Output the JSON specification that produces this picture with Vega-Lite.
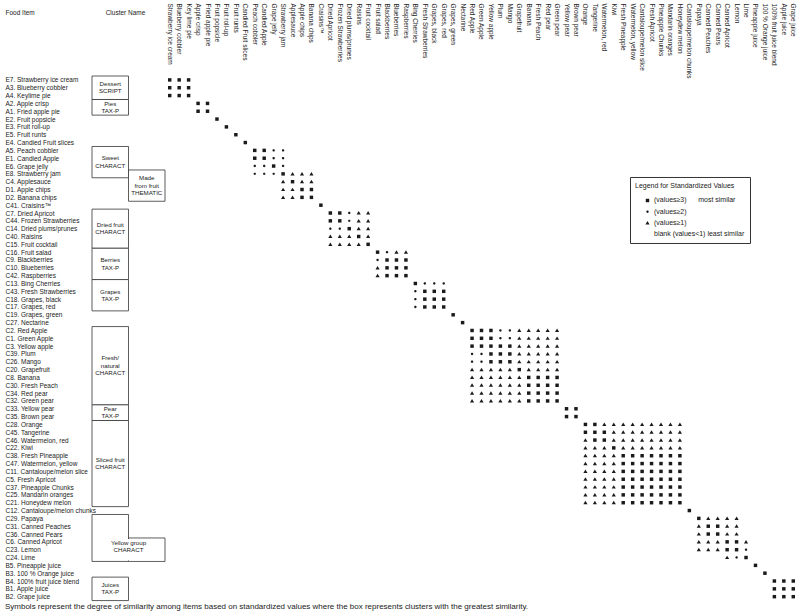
{
"$schema": "https://vega.github.io/schema/vega-lite/v6.json",
"padding": {"left": 5, "top": 2, "right": 0, "bottom": 2},
"bounds": "flush",
"spacing": 0,
"config": {"font": "Liberation Sans", "view": {"stroke": null}, "axis": {"grid": false, "labelOverlap": false}},
"title": {"text": "Symbols represent the degree of similarity among items based on standardized values where the box represents clusters with the greatest similarity.", "orient": "bottom", "anchor": "start", "fontSize": 8, "fontWeight": "normal", "color": "#222", "offset": 2},
"resolve": {"scale": {"y": "shared"}},
"datasets": {
"items": [
{"row":1,"name":"Strawberry ice cream"},{"row":2,"name":"Blueberry cobbler"},{"row":3,"name":"Key lime pie"},{"row":4,"name":"Apple crisp"},{"row":5,"name":"Fried apple pie"},{"row":6,"name":"Fruit popsicle"},{"row":7,"name":"Fruit roll-up"},{"row":8,"name":"Fruit runts"},{"row":9,"name":"Candied Fruit slices"},{"row":10,"name":"Peach cobbler"},{"row":11,"name":"Candied Apple"},{"row":12,"name":"Grape jelly"},{"row":13,"name":"Strawberry jam"},{"row":14,"name":"Applesauce"},{"row":15,"name":"Apple chips"},{"row":16,"name":"Banana chips"},{"row":17,"name":"Craisins™"},{"row":18,"name":"Dried Apricot"},{"row":19,"name":"Frozen Strawberries"},{"row":20,"name":"Dried plums/prunes"},{"row":21,"name":"Raisins"},{"row":22,"name":"Fruit cocktail"},{"row":23,"name":"Fruit salad"},{"row":24,"name":"Blackberries"},{"row":25,"name":"Blueberries"},{"row":26,"name":"Raspberries"},{"row":27,"name":"Bing Cherries"},{"row":28,"name":"Fresh Strawberries"},{"row":29,"name":"Grapes, black"},{"row":30,"name":"Grapes, red"},{"row":31,"name":"Grapes, green"},{"row":32,"name":"Nectarine"},{"row":33,"name":"Red Apple"},{"row":34,"name":"Green Apple"},{"row":35,"name":"Yellow apple"},{"row":36,"name":"Plum"},{"row":37,"name":"Mango"},{"row":38,"name":"Grapefruit"},{"row":39,"name":"Banana"},{"row":40,"name":"Fresh Peach"},{"row":41,"name":"Red pear"},{"row":42,"name":"Green pear"},{"row":43,"name":"Yellow pear"},{"row":44,"name":"Brown pear"},{"row":45,"name":"Orange"},{"row":46,"name":"Tangerine"},{"row":47,"name":"Watermelon, red"},{"row":48,"name":"Kiwi"},{"row":49,"name":"Fresh Pineapple"},{"row":50,"name":"Watermelon, yellow"},{"row":51,"name":"Cantaloupe/melon slice"},{"row":52,"name":"Fresh Apricot"},{"row":53,"name":"Pineapple Chunks"},{"row":54,"name":"Mandarin oranges"},{"row":55,"name":"Honeydew melon"},{"row":56,"name":"Cantaloupe/melon chunks"},{"row":57,"name":"Papaya"},{"row":58,"name":"Canned Peaches"},{"row":59,"name":"Canned Pears"},{"row":60,"name":"Canned Apricot"},{"row":61,"name":"Lemon"},{"row":62,"name":"Lime"},{"row":63,"name":"Pineapple juice"},{"row":64,"name":"100 % Orange juice"},{"row":65,"name":"100% fruit juice blend"},{"row":66,"name":"Apple juice"},{"row":67,"name":"Grape juice"}
],
"clusters": [
{"cl":"Dessert|SCRIPT","lv":"L1","r":1},{"cl":"Dessert|SCRIPT","lv":"L1","r":2},{"cl":"Dessert|SCRIPT","lv":"L1","r":3},
{"cl":"Pies|TAX-P","lv":"L1","r":4},{"cl":"Pies|TAX-P","lv":"L1","r":5},
{"cl":"Sweet|CHARACT","lv":"L1","r":10},{"cl":"Sweet|CHARACT","lv":"L1","r":11},{"cl":"Sweet|CHARACT","lv":"L1","r":12},{"cl":"Sweet|CHARACT","lv":"L1","r":13},
{"cl":"Made|from fruit|THEMATIC","lv":"L2","r":13},{"cl":"Made|from fruit|THEMATIC","lv":"L2","r":14},{"cl":"Made|from fruit|THEMATIC","lv":"L2","r":15},{"cl":"Made|from fruit|THEMATIC","lv":"L2","r":16},
{"cl":"Dried fruit|CHARACT","lv":"L1","r":18},{"cl":"Dried fruit|CHARACT","lv":"L1","r":19},{"cl":"Dried fruit|CHARACT","lv":"L1","r":20},{"cl":"Dried fruit|CHARACT","lv":"L1","r":21},{"cl":"Dried fruit|CHARACT","lv":"L1","r":22},
{"cl":"Berries|TAX-P","lv":"L1","r":23},{"cl":"Berries|TAX-P","lv":"L1","r":24},{"cl":"Berries|TAX-P","lv":"L1","r":25},{"cl":"Berries|TAX-P","lv":"L1","r":26},
{"cl":"Grapes|TAX-P","lv":"L1","r":27},{"cl":"Grapes|TAX-P","lv":"L1","r":28},{"cl":"Grapes|TAX-P","lv":"L1","r":29},{"cl":"Grapes|TAX-P","lv":"L1","r":30},
{"cl":"Fresh/|natural|CHARACT","lv":"L1","r":33},{"cl":"Fresh/|natural|CHARACT","lv":"L1","r":34},{"cl":"Fresh/|natural|CHARACT","lv":"L1","r":35},{"cl":"Fresh/|natural|CHARACT","lv":"L1","r":36},{"cl":"Fresh/|natural|CHARACT","lv":"L1","r":37},{"cl":"Fresh/|natural|CHARACT","lv":"L1","r":38},{"cl":"Fresh/|natural|CHARACT","lv":"L1","r":39},{"cl":"Fresh/|natural|CHARACT","lv":"L1","r":40},{"cl":"Fresh/|natural|CHARACT","lv":"L1","r":41},{"cl":"Fresh/|natural|CHARACT","lv":"L1","r":42},
{"cl":"Pear|TAX-P","lv":"L1","r":43},{"cl":"Pear|TAX-P","lv":"L1","r":44},
{"cl":"Sliced fruit|CHARACT","lv":"L1","r":45},{"cl":"Sliced fruit|CHARACT","lv":"L1","r":46},{"cl":"Sliced fruit|CHARACT","lv":"L1","r":47},{"cl":"Sliced fruit|CHARACT","lv":"L1","r":48},{"cl":"Sliced fruit|CHARACT","lv":"L1","r":49},{"cl":"Sliced fruit|CHARACT","lv":"L1","r":50},{"cl":"Sliced fruit|CHARACT","lv":"L1","r":51},{"cl":"Sliced fruit|CHARACT","lv":"L1","r":52},{"cl":"Sliced fruit|CHARACT","lv":"L1","r":53},{"cl":"Sliced fruit|CHARACT","lv":"L1","r":54},{"cl":"Sliced fruit|CHARACT","lv":"L1","r":55},
{"cl":"Yellow group|CHARACT","lv":"L1","r":57},{"cl":"Yellow group|CHARACT","lv":"L1","r":58},{"cl":"Yellow group|CHARACT","lv":"L1","r":59},{"cl":"Yellow group|CHARACT","lv":"L1","r":60},{"cl":"Yellow group|CHARACT","lv":"L1","r":61},{"cl":"Yellow group|CHARACT","lv":"L1","r":62},
{"cl":"Yellow group|CHARACT","lv":"L2","r":60},{"cl":"Yellow group|CHARACT","lv":"L2","r":61},{"cl":"Yellow group|CHARACT","lv":"L2","r":62},
{"cl":"Juices|TAX-P","lv":"L1","r":65},{"cl":"Juices|TAX-P","lv":"L1","r":66},{"cl":"Juices|TAX-P","lv":"L1","r":67}
],
"cells": [
{"r":1,"c":1,"v":3},{"r":1,"c":2,"v":3},{"r":1,"c":3,"v":3},{"r":2,"c":1,"v":3},{"r":2,"c":2,"v":3},{"r":2,"c":3,"v":3},{"r":3,"c":1,"v":3},{"r":3,"c":2,"v":3},{"r":3,"c":3,"v":3},
{"r":4,"c":4,"v":3},{"r":4,"c":5,"v":3},{"r":5,"c":4,"v":3},{"r":5,"c":5,"v":3},
{"r":6,"c":6,"v":3},{"r":7,"c":7,"v":3},{"r":8,"c":8,"v":3},{"r":9,"c":9,"v":3},
{"r":10,"c":10,"v":3},{"r":10,"c":11,"v":3},{"r":10,"c":12,"v":2},{"r":10,"c":13,"v":2},
{"r":11,"c":10,"v":3},{"r":11,"c":11,"v":3},{"r":11,"c":12,"v":2},{"r":11,"c":13,"v":2},
{"r":12,"c":10,"v":2},{"r":12,"c":11,"v":2},{"r":12,"c":12,"v":3},{"r":12,"c":13,"v":2},
{"r":13,"c":10,"v":2},{"r":13,"c":11,"v":2},{"r":13,"c":12,"v":2},{"r":13,"c":13,"v":3},{"r":13,"c":14,"v":1},{"r":13,"c":15,"v":1},{"r":13,"c":16,"v":1},
{"r":14,"c":13,"v":1},{"r":14,"c":14,"v":3},{"r":14,"c":15,"v":1},{"r":14,"c":16,"v":1},
{"r":15,"c":13,"v":1},{"r":15,"c":14,"v":1},{"r":15,"c":15,"v":3},{"r":15,"c":16,"v":3},
{"r":16,"c":13,"v":1},{"r":16,"c":14,"v":1},{"r":16,"c":15,"v":3},{"r":16,"c":16,"v":3},
{"r":17,"c":17,"v":3},
{"r":18,"c":18,"v":3},{"r":18,"c":19,"v":3},{"r":18,"c":20,"v":2},{"r":18,"c":21,"v":1},{"r":18,"c":22,"v":1},
{"r":19,"c":18,"v":3},{"r":19,"c":19,"v":3},{"r":19,"c":20,"v":2},{"r":19,"c":21,"v":1},{"r":19,"c":22,"v":1},
{"r":20,"c":18,"v":2},{"r":20,"c":19,"v":2},{"r":20,"c":20,"v":3},{"r":20,"c":21,"v":1},{"r":20,"c":22,"v":1},
{"r":21,"c":18,"v":1},{"r":21,"c":19,"v":1},{"r":21,"c":20,"v":1},{"r":21,"c":21,"v":3},{"r":21,"c":22,"v":1},
{"r":22,"c":18,"v":1},{"r":22,"c":19,"v":1},{"r":22,"c":20,"v":1},{"r":22,"c":21,"v":1},{"r":22,"c":22,"v":3},
{"r":23,"c":23,"v":3},{"r":23,"c":24,"v":2},{"r":23,"c":25,"v":1},{"r":23,"c":26,"v":1},
{"r":24,"c":23,"v":2},{"r":24,"c":24,"v":3},{"r":24,"c":25,"v":3},{"r":24,"c":26,"v":3},
{"r":25,"c":23,"v":1},{"r":25,"c":24,"v":3},{"r":25,"c":25,"v":3},{"r":25,"c":26,"v":3},
{"r":26,"c":23,"v":1},{"r":26,"c":24,"v":3},{"r":26,"c":25,"v":3},{"r":26,"c":26,"v":3},
{"r":27,"c":27,"v":3},{"r":27,"c":28,"v":2},{"r":27,"c":29,"v":2},{"r":27,"c":30,"v":2},
{"r":28,"c":27,"v":2},{"r":28,"c":28,"v":3},{"r":28,"c":29,"v":3},{"r":28,"c":30,"v":3},
{"r":29,"c":27,"v":2},{"r":29,"c":28,"v":3},{"r":29,"c":29,"v":3},{"r":29,"c":30,"v":3},
{"r":30,"c":27,"v":2},{"r":30,"c":28,"v":3},{"r":30,"c":29,"v":3},{"r":30,"c":30,"v":3},
{"r":31,"c":31,"v":3},{"r":32,"c":32,"v":3},
{"r":33,"c":33,"v":3},{"r":33,"c":34,"v":3},{"r":33,"c":35,"v":3},{"r":33,"c":36,"v":2},{"r":33,"c":37,"v":2},{"r":33,"c":38,"v":1},{"r":33,"c":39,"v":1},{"r":33,"c":40,"v":1},{"r":33,"c":41,"v":1},{"r":33,"c":42,"v":1},
{"r":34,"c":33,"v":3},{"r":34,"c":34,"v":3},{"r":34,"c":35,"v":3},{"r":34,"c":36,"v":2},{"r":34,"c":37,"v":2},{"r":34,"c":38,"v":1},{"r":34,"c":39,"v":1},{"r":34,"c":40,"v":1},{"r":34,"c":41,"v":1},{"r":34,"c":42,"v":1},
{"r":35,"c":33,"v":3},{"r":35,"c":34,"v":3},{"r":35,"c":35,"v":3},{"r":35,"c":36,"v":3},{"r":35,"c":37,"v":3},{"r":35,"c":38,"v":1},{"r":35,"c":39,"v":1},{"r":35,"c":40,"v":1},{"r":35,"c":41,"v":1},{"r":35,"c":42,"v":1},
{"r":36,"c":33,"v":2},{"r":36,"c":34,"v":2},{"r":36,"c":35,"v":3},{"r":36,"c":36,"v":3},{"r":36,"c":37,"v":3},{"r":36,"c":38,"v":1},{"r":36,"c":39,"v":1},{"r":36,"c":40,"v":1},{"r":36,"c":41,"v":1},{"r":36,"c":42,"v":1},
{"r":37,"c":33,"v":2},{"r":37,"c":34,"v":2},{"r":37,"c":35,"v":3},{"r":37,"c":36,"v":3},{"r":37,"c":37,"v":3},{"r":37,"c":38,"v":1},{"r":37,"c":39,"v":1},{"r":37,"c":40,"v":1},{"r":37,"c":41,"v":1},{"r":37,"c":42,"v":1},
{"r":38,"c":33,"v":1},{"r":38,"c":34,"v":1},{"r":38,"c":35,"v":1},{"r":38,"c":36,"v":1},{"r":38,"c":37,"v":1},{"r":38,"c":38,"v":3},{"r":38,"c":39,"v":1},{"r":38,"c":40,"v":1},{"r":38,"c":41,"v":1},{"r":38,"c":42,"v":1},
{"r":39,"c":33,"v":1},{"r":39,"c":34,"v":1},{"r":39,"c":35,"v":1},{"r":39,"c":36,"v":1},{"r":39,"c":37,"v":1},{"r":39,"c":38,"v":1},{"r":39,"c":39,"v":3},{"r":39,"c":40,"v":3},{"r":39,"c":41,"v":3},{"r":39,"c":42,"v":3},
{"r":40,"c":33,"v":1},{"r":40,"c":34,"v":1},{"r":40,"c":35,"v":1},{"r":40,"c":36,"v":1},{"r":40,"c":37,"v":1},{"r":40,"c":38,"v":1},{"r":40,"c":39,"v":3},{"r":40,"c":40,"v":3},{"r":40,"c":41,"v":3},{"r":40,"c":42,"v":3},
{"r":41,"c":33,"v":1},{"r":41,"c":34,"v":1},{"r":41,"c":35,"v":1},{"r":41,"c":36,"v":1},{"r":41,"c":37,"v":1},{"r":41,"c":38,"v":1},{"r":41,"c":39,"v":3},{"r":41,"c":40,"v":3},{"r":41,"c":41,"v":3},{"r":41,"c":42,"v":3},
{"r":42,"c":33,"v":1},{"r":42,"c":34,"v":1},{"r":42,"c":35,"v":1},{"r":42,"c":36,"v":1},{"r":42,"c":37,"v":1},{"r":42,"c":38,"v":1},{"r":42,"c":39,"v":3},{"r":42,"c":40,"v":3},{"r":42,"c":41,"v":3},{"r":42,"c":42,"v":3},
{"r":43,"c":43,"v":3},{"r":43,"c":44,"v":3},{"r":44,"c":43,"v":3},{"r":44,"c":44,"v":3},
{"r":45,"c":45,"v":3},{"r":45,"c":46,"v":3},{"r":45,"c":47,"v":1},{"r":45,"c":48,"v":1},{"r":45,"c":49,"v":1},{"r":45,"c":50,"v":1},{"r":45,"c":51,"v":1},{"r":45,"c":52,"v":1},{"r":45,"c":53,"v":1},{"r":45,"c":54,"v":1},{"r":45,"c":55,"v":1},
{"r":46,"c":45,"v":3},{"r":46,"c":46,"v":3},{"r":46,"c":47,"v":3},{"r":46,"c":48,"v":1},{"r":46,"c":49,"v":1},{"r":46,"c":50,"v":1},{"r":46,"c":51,"v":1},{"r":46,"c":52,"v":1},{"r":46,"c":53,"v":1},{"r":46,"c":54,"v":1},{"r":46,"c":55,"v":1},
{"r":47,"c":45,"v":1},{"r":47,"c":46,"v":3},{"r":47,"c":47,"v":3},{"r":47,"c":48,"v":1},{"r":47,"c":49,"v":1},{"r":47,"c":50,"v":1},{"r":47,"c":51,"v":1},{"r":47,"c":52,"v":1},{"r":47,"c":53,"v":1},{"r":47,"c":54,"v":1},{"r":47,"c":55,"v":1},
{"r":48,"c":45,"v":1},{"r":48,"c":46,"v":1},{"r":48,"c":47,"v":1},{"r":48,"c":48,"v":3},{"r":48,"c":49,"v":1},{"r":48,"c":50,"v":1},{"r":48,"c":51,"v":1},{"r":48,"c":52,"v":1},{"r":48,"c":53,"v":1},{"r":48,"c":54,"v":1},{"r":48,"c":55,"v":1},
{"r":49,"c":45,"v":1},{"r":49,"c":46,"v":1},{"r":49,"c":47,"v":1},{"r":49,"c":48,"v":1},{"r":49,"c":49,"v":3},{"r":49,"c":50,"v":3},{"r":49,"c":51,"v":3},{"r":49,"c":52,"v":3},{"r":49,"c":53,"v":3},{"r":49,"c":54,"v":3},{"r":49,"c":55,"v":3},
{"r":50,"c":45,"v":1},{"r":50,"c":46,"v":1},{"r":50,"c":47,"v":1},{"r":50,"c":48,"v":1},{"r":50,"c":49,"v":3},{"r":50,"c":50,"v":3},{"r":50,"c":51,"v":3},{"r":50,"c":52,"v":3},{"r":50,"c":53,"v":3},{"r":50,"c":54,"v":3},{"r":50,"c":55,"v":3},
{"r":51,"c":45,"v":1},{"r":51,"c":46,"v":1},{"r":51,"c":47,"v":1},{"r":51,"c":48,"v":1},{"r":51,"c":49,"v":3},{"r":51,"c":50,"v":3},{"r":51,"c":51,"v":3},{"r":51,"c":52,"v":3},{"r":51,"c":53,"v":3},{"r":51,"c":54,"v":3},{"r":51,"c":55,"v":3},
{"r":52,"c":45,"v":1},{"r":52,"c":46,"v":1},{"r":52,"c":47,"v":1},{"r":52,"c":48,"v":1},{"r":52,"c":49,"v":3},{"r":52,"c":50,"v":3},{"r":52,"c":51,"v":3},{"r":52,"c":52,"v":3},{"r":52,"c":53,"v":3},{"r":52,"c":54,"v":3},{"r":52,"c":55,"v":3},
{"r":53,"c":45,"v":1},{"r":53,"c":46,"v":1},{"r":53,"c":47,"v":1},{"r":53,"c":48,"v":1},{"r":53,"c":49,"v":3},{"r":53,"c":50,"v":3},{"r":53,"c":51,"v":3},{"r":53,"c":52,"v":3},{"r":53,"c":53,"v":3},{"r":53,"c":54,"v":3},{"r":53,"c":55,"v":3},
{"r":54,"c":45,"v":1},{"r":54,"c":46,"v":1},{"r":54,"c":47,"v":1},{"r":54,"c":48,"v":1},{"r":54,"c":49,"v":3},{"r":54,"c":50,"v":3},{"r":54,"c":51,"v":3},{"r":54,"c":52,"v":3},{"r":54,"c":53,"v":3},{"r":54,"c":54,"v":3},{"r":54,"c":55,"v":3},
{"r":55,"c":45,"v":1},{"r":55,"c":46,"v":1},{"r":55,"c":47,"v":1},{"r":55,"c":48,"v":1},{"r":55,"c":49,"v":3},{"r":55,"c":50,"v":3},{"r":55,"c":51,"v":3},{"r":55,"c":52,"v":3},{"r":55,"c":53,"v":3},{"r":55,"c":54,"v":3},{"r":55,"c":55,"v":3},
{"r":56,"c":56,"v":3},
{"r":57,"c":57,"v":3},{"r":57,"c":58,"v":1},{"r":57,"c":59,"v":1},{"r":57,"c":60,"v":1},{"r":57,"c":61,"v":1},
{"r":58,"c":57,"v":1},{"r":58,"c":58,"v":3},{"r":58,"c":59,"v":3},{"r":58,"c":60,"v":1},{"r":58,"c":61,"v":1},
{"r":59,"c":57,"v":1},{"r":59,"c":58,"v":3},{"r":59,"c":59,"v":3},{"r":59,"c":60,"v":1},{"r":59,"c":61,"v":1},
{"r":60,"c":57,"v":1},{"r":60,"c":58,"v":1},{"r":60,"c":59,"v":1},{"r":60,"c":60,"v":3},{"r":60,"c":61,"v":3},{"r":60,"c":62,"v":1},
{"r":61,"c":57,"v":1},{"r":61,"c":58,"v":1},{"r":61,"c":59,"v":1},{"r":61,"c":60,"v":3},{"r":61,"c":61,"v":3},{"r":61,"c":62,"v":2},
{"r":62,"c":60,"v":1},{"r":62,"c":61,"v":2},{"r":62,"c":62,"v":3},
{"r":63,"c":63,"v":3},{"r":64,"c":64,"v":3},
{"r":65,"c":65,"v":3},{"r":65,"c":66,"v":3},{"r":65,"c":67,"v":3},{"r":66,"c":65,"v":3},{"r":66,"c":66,"v":3},{"r":66,"c":67,"v":3},{"r":67,"c":65,"v":3},{"r":67,"c":66,"v":3},{"r":67,"c":67,"v":3}
]
},
"hconcat": [
{
"width": 73, "height": 524.6,
"data": {"name": "clusters"},
"layer": [
{
"mark": {"type": "rect", "fill": "white", "stroke": "#333", "strokeWidth": 0.8, "yOffset": -3.9, "y2Offset": 3.9},
"encoding": {
"x": {"field": "lv", "type": "nominal", "scale": {"type": "band", "domain": ["L1", "L2"], "paddingInner": 0, "paddingOuter": 0},
 "axis": {"orient": "top", "labels": false, "ticks": false, "domain": false, "title": "Cluster Name", "titleX": 33, "titleY": -63, "titleAlign": "center", "titleBaseline": "middle", "titleFontSize": 6.5, "titleFontWeight": "normal", "titleColor": "#222"}},
"y": {"field": "r", "aggregate": "min", "type": "quantitative", "scale": {"domain": [0.5, 67.5], "reverse": true, "nice": false, "zero": false},
 "axis": {"orient": "left", "tickCount": 200, "values": [1,2,3,4,5,6,7,8,9,10,11,12,13,14,15,16,17,18,19,20,21,22,23,24,25,26,27,28,29,30,31,32,33,34,35,36,37,38,39,40,41,42,43,44,45,46,47,48,49,50,51,52,53,54,55,56,57,58,59,60,61,62,63,64,65,66,67],
 "labelExpr": "['E7. Strawberry ice cream','A3. Blueberry cobbler','A4. Keylime pie','A2. Apple crisp','A1. Fried apple pie','E2. Fruit popsicle','E3. Fruit roll-up','E5. Fruit runts','E4. Candied Fruit slices','A5. Peach cobbler','E1. Candied Apple','E6. Grape jelly','E8. Strawberry jam','C4. Applesauce','D1. Apple chips','D2. Banana chips','C41. Craisins™','C7. Dried Apricot','C44. Frozen Strawberries','C14. Dried plums/prunes','C40. Raisins','C15. Fruit cocktail','C16. Fruit salad','C9. Blackberries','C10. Blueberries','C42. Raspberries','C13. Bing Cherries','C43. Fresh Strawberries','C18. Grapes, black','C17. Grapes, red','C19. Grapes, green','C27. Nectarine','C2. Red Apple','C1. Green Apple','C3. Yellow apple','C39. Plum','C26. Mango','C20. Grapefruit','C8. Banana','C30. Fresh Peach','C34. Red pear','C32. Green pear','C33. Yellow pear','C35. Brown pear','C28. Orange','C45. Tangerine','C46. Watermelon, red','C22. Kiwi','C38. Fresh Pineapple','C47. Watermelon, yellow','C11. Cantaloupe/melon slice','C5. Fresh Apricot','C37. Pineapple Chunks','C25. Mandarin oranges','C21. Honeydew melon','C12. Cantaloupe/melon chunks','C29. Papaya','C31. Canned Peaches','C36. Canned Pears','C6. Canned Apricot','C23. Lemon','C24. Lime','B5. Pineapple juice','B3. 100 % Orange juice','B4. 100% fruit juice blend','B1. Apple juice','B2. Grape juice'][datum.value - 1]",
 "labelAlign": "left", "labelBaseline": "middle", "labelPadding": 87, "tickSize": 0, "ticks": false, "domain": false, "labelFontSize": 6.5, "labelColor": "#222", "labelOverlap": false, "labelFlush": false, "labelLimit": 0,
 "title": "Food Item", "titleAngle": 0, "titleAlign": "left", "titleBaseline": "middle", "titleX": -87, "titleY": -63, "titleFontSize": 6.5, "titleFontWeight": "normal", "titleColor": "#222"}},
"y2": {"field": "r", "aggregate": "max"},
"detail": {"field": "cl", "type": "nominal"}
}
},
{
"transform": [{"filter": "datum.cl == 'Yellow group|CHARACT' && datum.lv == 'L2'"}],
"mark": {"type": "rect", "fill": "white", "strokeWidth": 0, "xOffset": -2, "x2Offset": -2, "yOffset": -2.9, "y2Offset": 2.9},
"encoding": {
"x": {"field": "lv", "type": "nominal"},
"y": {"field": "r", "aggregate": "min", "type": "quantitative"},
"y2": {"field": "r", "aggregate": "max"}
}
},
{
"transform": [{"filter": "datum.cl != 'Yellow group|CHARACT' && indexof(datum.cl, '|') == lastindexof(datum.cl, '|')"}],
"mark": {"type": "text", "fontSize": 6.2, "lineBreak": "|", "lineHeight": 7.3, "align": "center", "baseline": "middle", "color": "#222", "dy": -3.65},
"encoding": {
"x": {"field": "lv", "type": "nominal"},
"y": {"field": "r", "aggregate": "mean", "type": "quantitative"},
"text": {"field": "cl", "type": "nominal"}
}
},
{
"transform": [{"filter": "indexof(datum.cl, '|') != lastindexof(datum.cl, '|')"}],
"mark": {"type": "text", "fontSize": 6.2, "lineBreak": "|", "lineHeight": 7.3, "align": "center", "baseline": "middle", "color": "#222", "dy": -7.3},
"encoding": {
"x": {"field": "lv", "type": "nominal"},
"y": {"field": "r", "aggregate": "mean", "type": "quantitative"},
"text": {"field": "cl", "type": "nominal"}
}
},
{
"transform": [{"filter": "datum.cl == 'Yellow group|CHARACT' && datum.lv == 'L2'"}],
"mark": {"type": "text", "fontSize": 6.2, "lineBreak": "|", "lineHeight": 7.3, "align": "center", "baseline": "middle", "color": "#222", "dy": -7},
"encoding": {
"x": {"field": "lv", "type": "nominal", "bandPosition": 0},
"y": {"field": "r", "aggregate": "mean", "type": "quantitative"},
"text": {"field": "cl", "type": "nominal"}
}
}
]
},
{
"width": 633, "height": 524.6,
"data": {"name": "cells"},
"transform": [{"lookup": "c", "from": {"data": {"name": "items"}, "key": "row", "fields": ["name"]}}],
"mark": {"type": "point", "filled": true, "opacity": 1, "size": 12, "color": "#1a1a1a"},
"encoding": {
"x": {"field": "name", "type": "nominal", "sort": {"field": "c", "op": "min"}, "scale": {"type": "band", "paddingInner": 0, "paddingOuter": 0},
 "axis": {"orient": "top", "labelAngle": 90, "labelAlign": "left", "labelBaseline": "middle", "labelPadding": 73, "tickSize": 0, "ticks": false, "domain": false, "title": null, "labelFontSize": 6.5, "labelColor": "#222", "labelOverlap": false, "labelLimit": 0}},
"y": {"field": "r", "type": "quantitative", "scale": {"domain": [0.5, 67.5], "reverse": true, "nice": false, "zero": false}, "axis": null},
"shape": {"field": "v", "type": "ordinal",
 "scale": {"domain": [3, 2, 1, 0], "range": ["square", "M0.7,0A0.7,0.7,0,1,1,-0.7,0A0.7,0.7,0,1,1,0.7,0Z", "M0,-1.1L1.2,0.9L-1.2,0.9Z", "M0,0Z"]},
 "legend": {"orient": "none", "legendX": 538, "legendY": 101, "title": "Legend for Standardized Values", "titleFontSize": 7, "titleFontWeight": "normal", "titleColor": "#222", "labelFontSize": 7, "labelColor": "#222",
  "labelExpr": "datum.value == 3 ? '(values≥3)\u00a0\u00a0\u00a0\u00a0\u00a0\u00a0most similar' : datum.value == 2 ? '(values≥2)' : datum.value == 1 ? '(values≥1)' : 'blank (values<1) least similar'",
  "strokeColor": "#333", "padding": 5, "titlePadding": 8, "rowPadding": 3.2, "symbolOffset": 9, "symbolSize": 12, "symbolFillColor": "#1a1a1a", "symbolStrokeWidth": 0, "labelOffset": 3, "fillColor": "white", "direction": "vertical"}}
}
}
]
}
